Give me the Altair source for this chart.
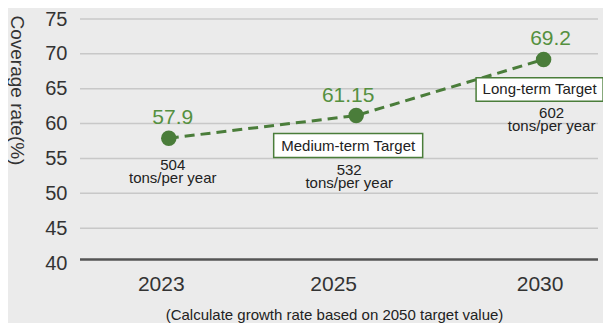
import altair as alt
import pandas as pd

# ---- data ----
years = ["2023", "2025", "2030"]
coverage = [57.9, 61.15, 69.2]
tons = [504, 532, 602]
ton_unit = "tons/per year"
targets = ["", "Medium-term Target", "Long-term Target"]
y_ticks = [40, 45, 50, 55, 60, 65, 70, 75]
y_title = "Coverage rate(%)"
x_note = "(Calculate growth rate based on 2050 target value)"

df = pd.DataFrame({"year": years, "coverage": coverage, "tons": tons, "target": targets})
df["ton_label"] = [f"{t}\n{ton_unit}" for t in tons]
df["cov_label"] = [f"{c:g}" for c in coverage]
grid_df = pd.DataFrame({"coverage": y_ticks[1:]})
base_df = pd.DataFrame({"coverage": y_ticks[:1]})

# ---- styling ----
GREEN = "#4a7d3a"
TGREEN = "#55903f"
FONT = "Liberation Sans"
W, H = 518, 244
# per-label pixel nudges (styling only)
val_dx = {"2023": 4, "2025": -8, "2030": 7}
ton_off = {"2023": (4, 27), "2025": (-7, 54), "2030": (8, 54)}
label_off = {"2023": -8, "2025": -23, "2030": -4}

x_scale = alt.Scale(type="point", padding=0.382, align=0.62)
y_scale = alt.Scale(domain=[40, 75], nice=False, zero=False)

x_axis = alt.Axis(
    domain=False, ticks=False, grid=False,
    labelFontSize=21, labelColor="#333", labelFont=FONT, labelPadding=10,
    labelOffset={
        "condition": [
            {"test": f"datum.value === '{years[0]}'", "value": label_off[years[0]]},
            {"test": f"datum.value === '{years[1]}'", "value": label_off[years[1]]},
        ],
        "value": label_off[years[2]],
    },
    labelAngle=0,
    title=x_note, titleFontSize=15, titleFont=FONT, titleColor="#222",
    titleFontWeight="normal", titleX=254, titleY=56, titleBaseline="alphabetic",
    titleAlign="center",
)
y_axis = alt.Axis(
    values=y_ticks, domain=False, ticks=False, grid=False,
    labelFontSize=20, labelColor="#333", labelFont=FONT, labelPadding=13,
    title=y_title, titleFontSize=19, titleFont=FONT, titleColor="#333",
    titleFontWeight="normal", titleAngle=90, titleX=-64, titleY=-4,
    titleAlign="left", titleBaseline="middle",
)

X = alt.X("year:O", scale=x_scale, axis=x_axis, sort=years)
Y = alt.Y("coverage:Q", scale=y_scale, axis=y_axis)

base = alt.Chart(df)

gridlines = alt.Chart(grid_df).mark_rule(color="#c8c8c8", strokeWidth=1.5).encode(y=Y)

baseline = alt.Chart(base_df).mark_rule(
    color="#555555", strokeWidth=2.5, yOffset=-3.5
).encode(y=Y)

line = base.mark_line(color=GREEN, strokeWidth=3, strokeDash=[10, 6]).encode(x=X, y=Y)

points = base.mark_circle(size=240, color=GREEN, opacity=1).encode(x=X, y=Y)


def val_label(yr):
    return base.transform_filter(alt.datum.year == yr).mark_text(
        fontSize=21, color=TGREEN, font=FONT, dy=-14, dx=val_dx[yr], baseline="alphabetic"
    ).encode(x=X, y=Y, text="cov_label:N")


def ton_label(yr):
    dx, dy = ton_off[yr]
    return base.transform_filter(alt.datum.year == yr).mark_text(
        fontSize=15, color="#222", font=FONT, lineBreak="\n", lineHeight=13,
        baseline="middle", xOffset=dx, yOffset=dy,
    ).encode(x=X, y=Y, text="ton_label:N")


def box(label, w, h, xoff):
    r = h / w
    path = f"M-1,{-r}L1,{-r}L1,{r}L-1,{r}Z"
    sub = base.transform_filter(alt.datum.target == label)
    rect = sub.mark_point(
        shape=path, size=w * w, filled=True, fill="white", stroke=GREEN,
        strokeWidth=1.5, opacity=1, yOffset=30, xOffset=xoff,
    ).encode(x=X, y=Y)
    txt = sub.mark_text(
        fontSize=15, color="#222", font=FONT, yOffset=30, xOffset=xoff, baseline="middle"
    ).encode(x=X, y=Y, text="target:N")
    return [rect, txt]


layers = [gridlines, baseline, line]
layers += box(targets[1], 149, 24, -8)
layers += box(targets[2], 127, 23.5, -4)
layers += [points]
layers += [val_label(y) for y in years]
layers += [ton_label(y) for y in years]

chart = alt.layer(*layers).properties(
    width=W, height=H,
    padding={"left": 72, "top": 11, "right": 5, "bottom": 60},
    autosize=alt.AutoSizeParams(type="none"),
    background="#ebebeb",
).configure_view(stroke=None)

chart.save("out.html", embed_options={"renderer": "svg", "actions": False})
